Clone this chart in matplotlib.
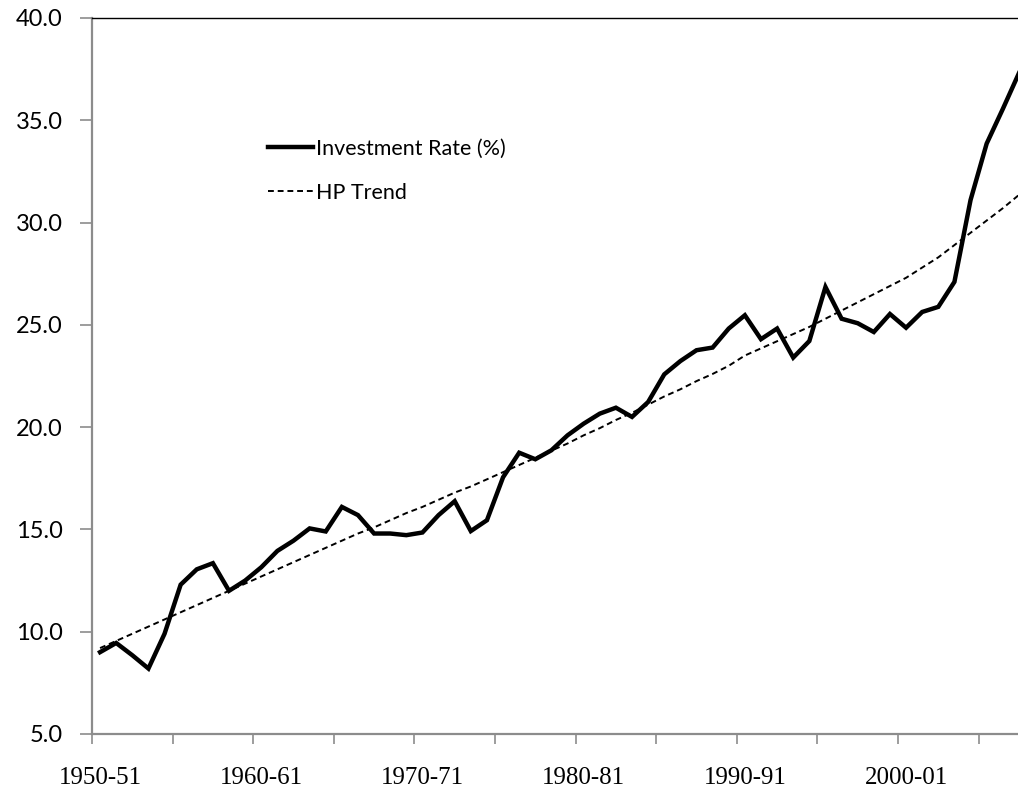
"""
Investment rate vs HP trend, 1950-51 to 2007-08.
"""
import matplotlib
matplotlib.use("Agg")
import matplotlib.pyplot as plt
from matplotlib.ticker import FixedLocator, FixedFormatter

# Fiscal years 1950-51 .. 2007-08
YEARS = [f"{y}-{(y + 1) % 100:02d}" for y in range(1950, 2008)]

# Investment rate (%)
INVEST = [
    9.0, 9.45, 8.85, 8.2, 9.9, 12.3, 13.05, 13.35, 12.0, 12.5,
    13.15, 13.95, 14.45, 15.05, 14.9, 16.1, 15.7, 14.8, 14.8, 14.72,
    14.85, 15.7, 16.38, 14.92, 15.45, 17.55, 18.75, 18.43, 18.87, 19.6,
    20.17, 20.66, 20.95, 20.5, 21.23, 22.58, 23.23, 23.76, 23.89, 24.82,
    25.47, 24.3, 24.82, 23.4, 24.21, 26.85, 25.3, 25.08, 24.65, 25.53,
    24.86, 25.63, 25.88, 27.1, 31.1, 33.86, 35.55, 37.3,
]

# Hodrick-Prescott trend (%)
HP_TREND = [
    9.2, 9.55, 9.9, 10.25, 10.6, 10.95, 11.3, 11.65, 12.0, 12.35,
    12.7, 13.05, 13.4, 13.75, 14.1, 14.45, 14.8, 15.1, 15.45, 15.8,
    16.1, 16.45, 16.8, 17.1, 17.45, 17.8, 18.15, 18.5, 18.85, 19.2,
    19.6, 19.95, 20.35, 20.7, 21.1, 21.5, 21.85, 22.25, 22.6, 23.0,
    23.5, 23.85, 24.2, 24.55, 24.9, 25.3, 25.7, 26.1, 26.5, 26.9,
    27.3, 27.8, 28.3, 28.9, 29.5, 30.1, 30.7, 31.35,
]

YTICKS = [5, 10, 15, 20, 25, 30, 35, 40]

W, H = 1018, 798
fig = plt.figure(figsize=(W / 100, H / 100), dpi=100)
ax = fig.add_axes([92 / W, (H - 734) / H, (W - 92) / W, (734 - 18) / H])

x = list(range(len(YEARS)))
ax.plot(x, INVEST, color='black', linewidth=3.2, solid_joinstyle='miter',
        label='Investment Rate (%)')
ax.plot(x, HP_TREND, color='black', linewidth=1.4, linestyle=(0, (3, 2)),
        label='HP Trend')

ax.set_xlim(-0.5, (W - 92) / 16.12 - 0.5)
ax.set_ylim(5, 40)

# y axis
ax.set_yticks(YTICKS)
ax.set_yticklabels([f"{v:.1f}" for v in YTICKS], fontfamily='Lato', fontsize=17)
ax.tick_params(axis='y', direction='out', length=9, width=1.2,
               color='#8c8c8c', pad=12)

# x axis: ticks at category boundaries every 5, labels every 10
ax.xaxis.set_major_locator(FixedLocator([i - 0.5 for i in range(0, len(YEARS), 5)]))
ax.xaxis.set_major_formatter(FixedFormatter([''] * 12))
ax.xaxis.set_minor_locator(FixedLocator(list(range(0, len(YEARS), 10))))
ax.xaxis.set_minor_formatter(FixedFormatter([YEARS[i] for i in range(0, len(YEARS), 10)]))
ax.tick_params(axis='x', which='major', direction='out', length=7, width=1.2,
               color='#8c8c8c')
ax.tick_params(axis='x', which='minor', length=0, pad=24, labelsize=18)
for lab in ax.get_xticklabels(minor=True):
    lab.set_fontfamily('Liberation Serif')

for side in ('left', 'bottom'):
    ax.spines[side].set_color('#8c8c8c')
    ax.spines[side].set_linewidth(1.6)
ax.spines['top'].set_color('black')
ax.spines['top'].set_linewidth(1.0)
ax.spines['right'].set_visible(False)

ax.legend(loc='upper left', bbox_to_anchor=(0.19, 0.831), frameon=False,
          borderpad=0, borderaxespad=0,
          handlelength=2.1, handletextpad=0.15, labelspacing=1.1,
          prop={'family': 'Lato', 'size': 15.5})

fig.savefig('out.png', dpi=100)
